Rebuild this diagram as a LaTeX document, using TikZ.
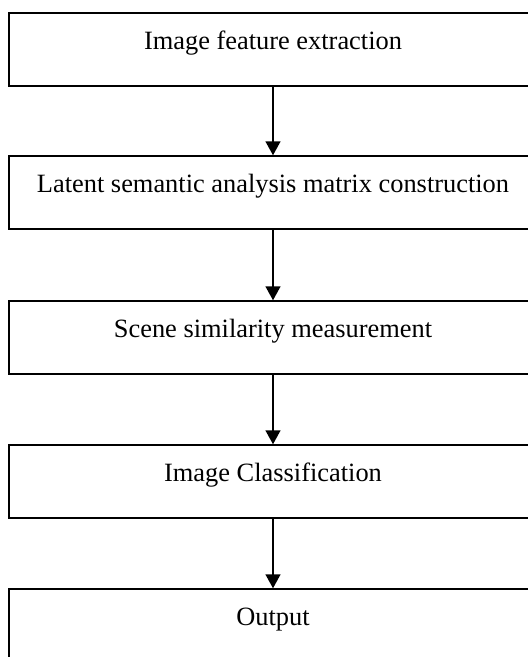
\documentclass[tikz,border=0pt]{standalone}
\usepackage{fontspec}
\setmainfont{Liberation Serif}
\usetikzlibrary{arrows.meta}
\begin{document}
\begin{tikzpicture}[x=1pt,y=1pt,
  stepbox/.style={draw=black, line width=1.5pt, rectangle, minimum width=528pt,
    inner xsep=0pt, inner ysep=0pt, text height=36pt, text depth=37pt,
    font=\fontsize{26.4}{30}\selectfont},
  flow/.style={draw=black, line width=1.5pt, -{Triangle[length=14pt,width=15pt]}, shorten >=0pt}]
\useasboundingbox (0,0) rectangle (528,-657);
\node[stepbox] (a) at (273,-49.5) {Image feature extraction};
\node[stepbox] (b) at (273,-192.5) {Latent semantic analysis matrix construction};
\node[stepbox] (c) at (273,-337.5) {Scene similarity measurement};
\node[stepbox] (d) at (273,-481.5) {Image Classification};
\node[stepbox] (e) at (273,-625.5) {Output};
\draw[flow] (a) -- (b);
\draw[flow] (b) -- (c);
\draw[flow] (c) -- (d);
\draw[flow] (d) -- (e);
\end{tikzpicture}
\end{document}
